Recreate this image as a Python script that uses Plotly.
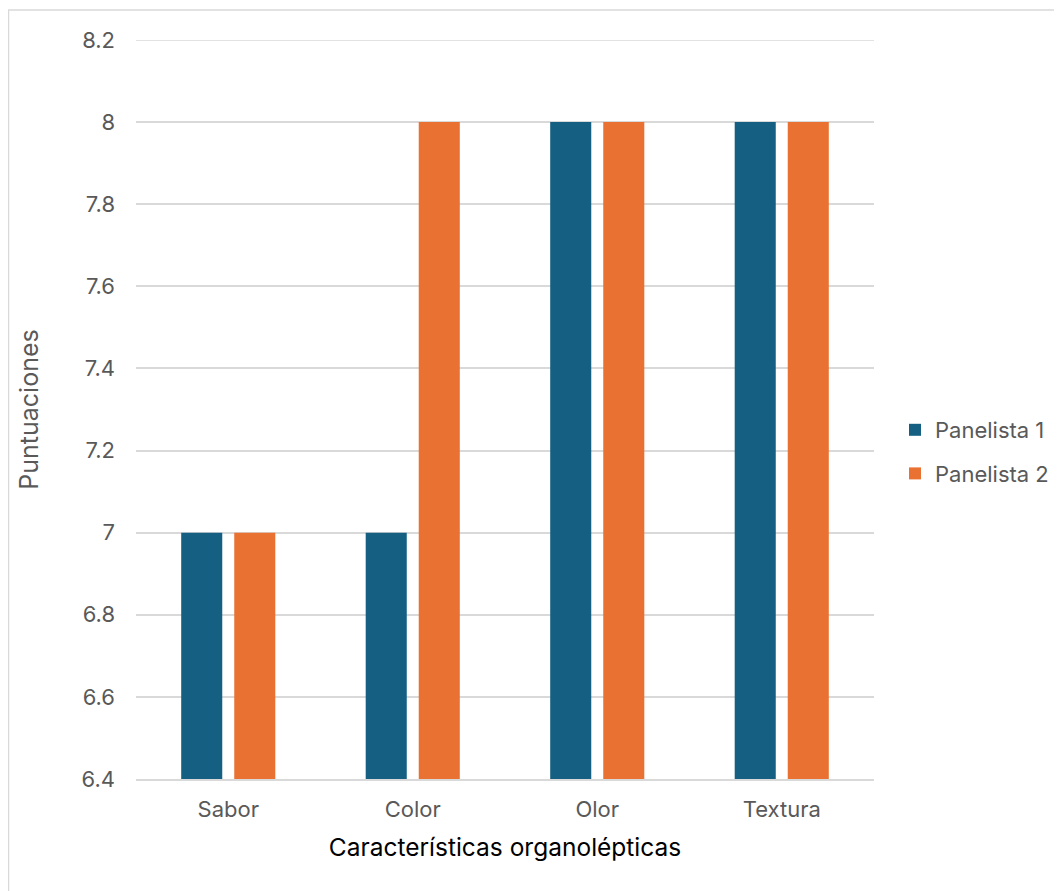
import plotly.graph_objects as go

categories = ["Sabor", "Color", "Olor", "Textura"]
panelista1 = [7, 7, 8, 8]
panelista2 = [7, 8, 8, 8]
series_names = ["Panelista 1", "Panelista 2"]
colors = ["#156082", "#E97132"]
y_ticks = [6.4, 6.6, 6.8, 7, 7.2, 7.4, 7.6, 7.8, 8, 8.2]
y_tick_text = ["6.4", "6.6", "6.8", "7", "7.2", "7.4", "7.6", "7.8", "8", "8.2"]

FONT = "Inter, Liberation Sans, sans-serif"
GRAY = "#595959"
GRID = "#D9D9D9"

fig = go.Figure()
for i, (name, vals, col) in enumerate(zip(series_names, [panelista1, panelista2], colors)):
    fig.add_trace(go.Bar(x=categories, y=vals, name=name, legendgroup=f"g{i}",
                         marker=dict(color=col, line=dict(width=0))))

# page body adds an 8px offset; design in screen coords minus 8
OFF = 8
W, H = 1062 - OFF, 891 - OFF
px_left, px_right, px_top, px_bottom = 136 - OFF, 874 - OFF, 40 - OFF, 779 - OFF
L, R, T, B = px_left, W - px_right, px_top, H - px_bottom
pw, ph = W - L - R, H - T - B

fig.update_layout(
    width=W, height=H,
    margin=dict(l=L, r=R, t=T, b=B, pad=0, autoexpand=False),
    autosize=False,
    paper_bgcolor="white", plot_bgcolor="white",
    barmode="group", bargap=0.425, bargroupgap=0.226,
    font=dict(family=FONT, color=GRAY, size=22),
    showlegend=True,
    legend=dict(xref="container", yref="container",
                x=887 / W, y=1 - (452 - OFF) / H, xanchor="left", yanchor="middle",
                font=dict(size=22, color=GRAY), traceorder="grouped", tracegroupgap=12, itemwidth=30,
                bgcolor="rgba(0,0,0,0)"),
    xaxis=dict(
        showgrid=False, showline=True, linecolor=GRID, linewidth=1.5, automargin=False,
        ticks="", tickfont=dict(size=22, color=GRAY), ticklabelstandoff=10,
        title=dict(text="Características organolépticas", font=dict(size=24.5, color="#000000"), standoff=18),
    ),
    yaxis=dict(
        range=[y_ticks[0], y_ticks[-1]], tickvals=y_ticks, ticktext=y_tick_text, automargin=False,
        showgrid=True, gridcolor=GRID, gridwidth=1.5, zeroline=False, showline=False,
        ticks="", tickfont=dict(size=22, color=GRAY), ticklabelstandoff=20,
        title=dict(text="Puntuaciones", font=dict(size=25, color=GRAY), standoff=35),
    ),
    shapes=[
        dict(type="rect", xref="paper", yref="paper",
             x0=(0.5 - L) / pw, x1=(1300 - L) / pw, y0=(px_bottom - 1100) / ph, y1=(px_bottom - 2) / ph,
             line=dict(color=GRID, width=1.5), fillcolor="rgba(0,0,0,0)", layer="below"),
        # top gridline (plotly drops gridlines at the plot edge)
        dict(type="line", xref="paper", yref="y", x0=0, x1=1, y0=y_ticks[-1], y1=y_ticks[-1],
             line=dict(color=GRID, width=1.5), layer="below"),
    ],
)

fig.write_html("out.html")
